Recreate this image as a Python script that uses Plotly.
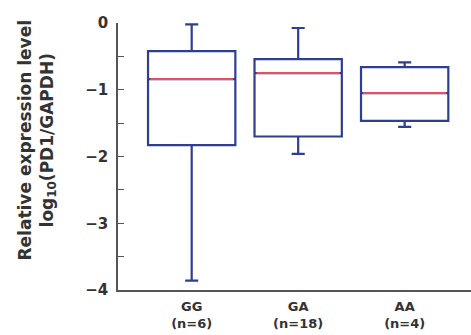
import plotly.graph_objects as go

categories = ["GG", "GA", "AA"]
counts = [6, 18, 4]
lower_whisker = [-3.86, -1.96, -1.555]
q1 = [-1.83, -1.70, -1.465]
median = [-0.84, -0.75, -1.05]
q3 = [-0.42, -0.54, -0.66]
upper_whisker = [-0.02, -0.075, -0.59]

positions = list(range(len(categories)))
box_width = 0.82
box_color = "#2f3e92"
median_color = "#e8505b"
text_color = "#333333"
font_family = "DejaVu Sans, Verdana, sans-serif"

fig = go.Figure()
fig.add_trace(go.Box(
    x=positions,
    q1=q1, median=median, q3=q3,
    lowerfence=lower_whisker, upperfence=upper_whisker,
    width=box_width,
    whiskerwidth=0.15,
    line=dict(color=box_color, width=2.2),
    fillcolor="rgba(255,255,255,0)",
    boxpoints=False,
    showlegend=False,
    hoverinfo="skip",
))

mx, my = [], []
for p, m in zip(positions, median):
    mx += [p - box_width / 2 + 0.02, p + box_width / 2 - 0.02, None]
    my += [m, m, None]
fig.add_trace(go.Scatter(
    x=mx, y=my, mode="lines",
    line=dict(color=median_color, width=2),
    showlegend=False, hoverinfo="skip",
))

ytickvals = [0, -0.5, -1, -1.5, -2, -2.5, -3, -3.5, -4]
yticktext = ["0", "", "\u22121", "", "\u22122", "", "\u22123", "", "\u22124"]

fig.update_layout(
    width=471, height=335,
    margin=dict(l=118, r=0, t=23, b=45),
    plot_bgcolor="white", paper_bgcolor="white",
    font=dict(family=font_family, color=text_color),
    xaxis=dict(
        range=[-0.692, 2.623],
        tickvals=positions,
        ticktext=[f"<b>{c}</b><br><b>(n={n})</b>" for c, n in zip(categories, counts)],
        tickfont=dict(size=13, color=text_color),
        ticklabelstandoff=4,
        showline=True, linecolor="#555555", linewidth=1.5,
        ticks="", showgrid=False, zeroline=False,
    ),
    yaxis=dict(
        range=[-4, 0],
        tickvals=ytickvals, ticktext=[f"<b>{t}</b>" if t else "" for t in yticktext],
        tickfont=dict(size=15, color=text_color),
        ticklabelstandoff=5,
        ticks="inside", ticklen=6, tickwidth=1.3, tickcolor="#555555",
        showline=True, linecolor="#555555", linewidth=1.5,
        showgrid=False, zeroline=False,
    ),
    annotations=[dict(
        text="<b>Relative expression level</b><br><b>log<sub>10</sub>(PD1/GAPDH)</b>",
        xref="paper", yref="paper",
        x=(36.5 - 118) / 353, y=(290 - 140) / 267,
        xanchor="center", yanchor="middle",
        textangle=-90, showarrow=False,
        font=dict(size=17, color=text_color, family=font_family),
    )],
)

fig.write_html("out.html")
